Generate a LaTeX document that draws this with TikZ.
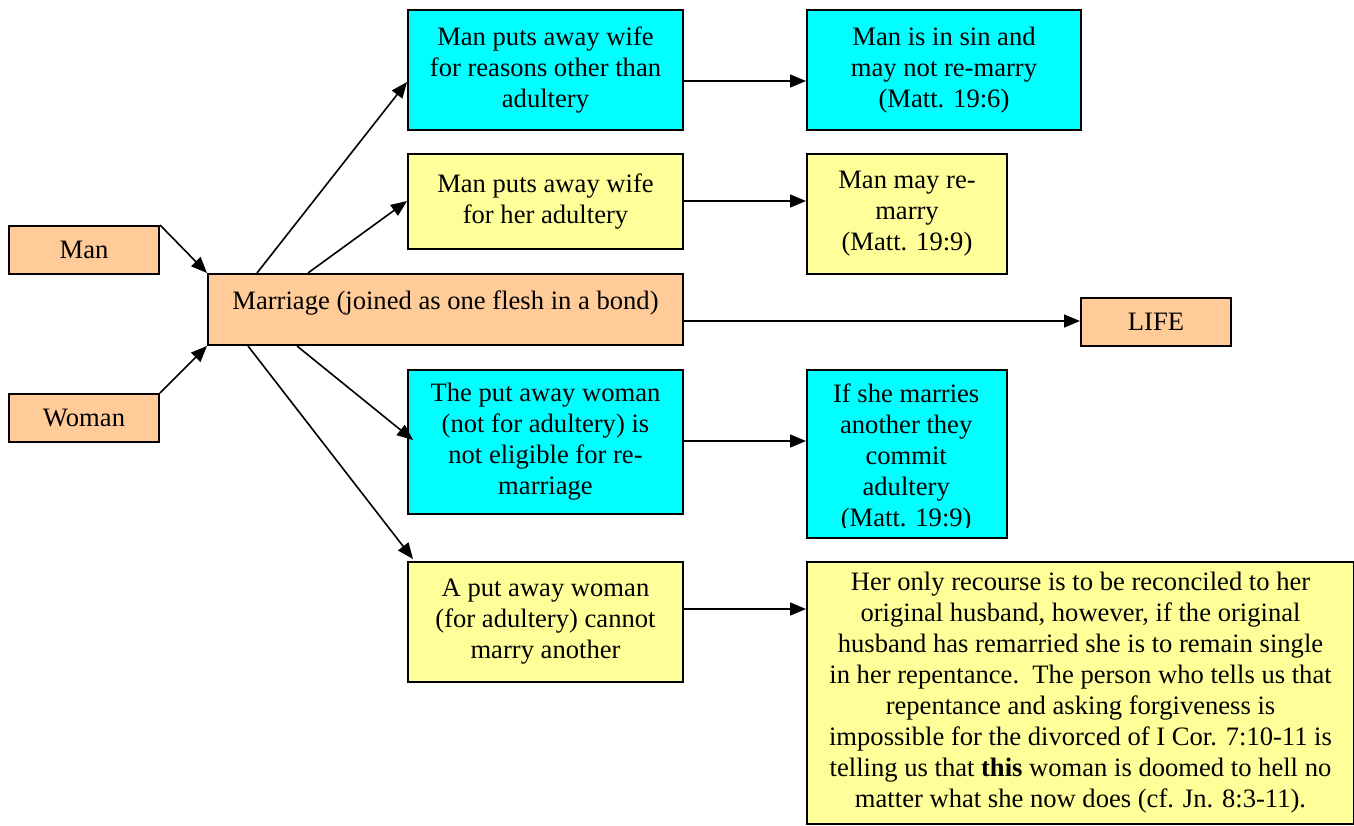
\documentclass[tikz,border=0pt]{standalone}
\usepackage{fontspec}
\setmainfont{Liberation Serif}
\usetikzlibrary{arrows.meta,calc}
\definecolor{cyanbox}{HTML}{00FFFF}
\definecolor{yelbox}{HTML}{FFFF99}
\definecolor{orgbox}{HTML}{FFCC99}
\tikzset{
  box/.style={draw=black,line width=2pt,anchor=north west,inner sep=0pt,align=center,
    font=\fontsize{26.6}{31}\selectfont},
  plain/.style={anchor=north west,inner sep=0pt,align=center,
    font=\fontsize{26.6}{31}\selectfont},
  conn/.style={line width=1.6pt,-{Triangle[length=16pt,width=13pt]}},
}
\begin{document}
\begin{tikzpicture}[x=1pt,y=-1pt]
\useasboundingbox (0,0) rectangle (1354,825);

\node[box,fill=orgbox,minimum width=150pt,minimum height=48pt] (man) at (8,225) {Man};
\node[box,fill=orgbox,minimum width=150pt,minimum height=48pt] (woman) at (8,393) {Woman};
\node[box,fill=orgbox,minimum width=475pt,minimum height=71pt,text height=20pt,text depth=20pt] (m) at (207,273) {Marriage (joined as one flesh in a bond)};
\node[box,fill=orgbox,minimum width=150pt,minimum height=48pt] (life) at (1080,297) {LIFE};

\node[box,fill=cyanbox,minimum width=275pt,minimum height=120pt] (b1) at (407,9) {Man puts away wife\\for reasons other than\\adultery};
\node[box,fill=cyanbox,minimum width=274pt,minimum height=120pt] (b2) at (806,9) {Man is in sin and\\may not re-marry\\(Matt. 19:6)};
\node[box,fill=yelbox,minimum width=275pt,minimum height=95pt] (b3) at (407,153) {Man puts away wife\\for her adultery};
\node[box,fill=yelbox,minimum width=200pt,minimum height=120pt] (b4) at (806,153) {Man may re-\\marry\\(Matt. 19:9)};
\node[box,fill=cyanbox,minimum width=275pt,minimum height=144pt] (b5) at (407,369) {The put away woman\\(not for adultery) is\\not eligible for re-\\marriage};
\node[box,fill=cyanbox,minimum width=200pt,minimum height=168pt] (b6) at (806,369) {};
\begin{scope}
\clip (806,369) rectangle (1006,527);
\node[plain,minimum width=200pt,minimum height=168pt] (b6t) at (806,374) {If she marries\\another they\\commit\\adultery\\(Matt. 19:9)};
\end{scope}
\node[box,fill=yelbox,minimum width=275pt,minimum height=120pt] (b7) at (407,561) {A put away woman\\(for adultery) cannot\\marry another};
\node[box,fill=yelbox,minimum width=547pt,minimum height=262pt] (b8) at (806,561) {Her only recourse is to be reconciled to her\\original husband, however, if the original\\husband has remarried she is to remain single\\in her repentance.\ \ The person who tells us that\\repentance and asking forgiveness is\\impossible for the divorced of I Cor. 7:10-11 is\\telling us that \textbf{this} woman is doomed to hell no\\matter what she now does (cf. Jn. 8:3-11).};

\draw[conn] (man.north east) -- (m.north west);
\draw[conn] (woman.north east) -- (m.south west);
\draw[conn] ($(m.north west)+(50,0)$) -- (b1.west |- 0,82);
\draw[conn] ($(m.north west)+(101,0)$) -- (b3.west |- 0,201);
\draw[conn] ($(m.south west)+(90,0)$) -- ($(b5.west |- 0,440)+(6,0)$);
\draw[conn] ($(m.south west)+(41,0)$) -- ($(b7.north west)+(6,-2)$);

\draw[conn] (b1.east |- 0,81) -- (b2.west |- 0,81);
\draw[conn] (b3.east |- 0,201) -- (b4.west |- 0,201);
\draw[conn] (m.east |- 0,321) -- (life.west |- 0,321);
\draw[conn] (b5.east |- 0,441) -- (b6.west |- 0,441);
\draw[conn] (b7.east |- 0,609) -- (b8.west |- 0,609);
\end{tikzpicture}
\end{document}
